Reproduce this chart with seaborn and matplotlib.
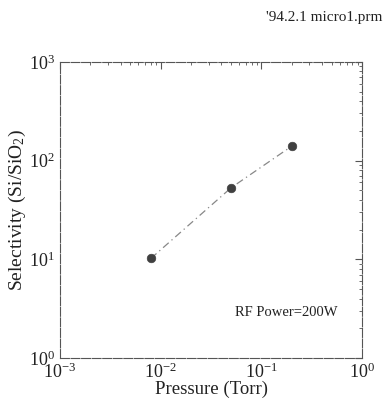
import numpy as np
import pandas as pd
import matplotlib
matplotlib.use("Agg")
import matplotlib.pyplot as plt
import seaborn as sns
from matplotlib.ticker import LogLocator

pressure = [0.008, 0.05, 0.2]
selectivity = [10.2, 53, 140]

df = pd.DataFrame({"Pressure": pressure, "Selectivity": selectivity})

sns.set_style("white")
plt.rcParams["font.family"] = ["Liberation Serif", "DejaVu Serif"]
plt.rcParams["mathtext.fontset"] = "custom"
plt.rcParams["mathtext.rm"] = "Liberation Serif"
plt.rcParams["mathtext.it"] = "Liberation Serif:italic"

fig = plt.figure(figsize=(3.84, 3.98), dpi=100)
ax = fig.add_axes([0.156, 0.1005, 0.787, 0.744])

sns.lineplot(data=df, x="Pressure", y="Selectivity", ax=ax, color="#888888",
             linestyle=(0, (6, 3, 1, 3)), linewidth=0.9)
sns.scatterplot(data=df, x="Pressure", y="Selectivity", ax=ax, color="#404040",
                s=38, edgecolor="#404040", zorder=3)

ax.set_xscale("log")
ax.set_yscale("log")
ax.set_xlim(1e-3, 1e0)
ax.set_ylim(1e0, 1e3)
ax.xaxis.set_major_locator(LogLocator(base=10, numticks=10))
ax.yaxis.set_major_locator(LogLocator(base=10, numticks=10))
ax.xaxis.set_minor_locator(LogLocator(base=10, subs=np.arange(2, 10), numticks=20))
ax.yaxis.set_minor_locator(LogLocator(base=10, subs=np.arange(2, 10), numticks=20))

for s in ax.spines.values():
    s.set_color("#555555")
    s.set_linewidth(0.8)
    s.set_linestyle((0, (8, 1.5)))

ax.tick_params(which="both", direction="in", top=True, right=True,
               colors="#555555", labelcolor="#222222", labelsize=13)
ax.tick_params(which="major", length=5, width=0.8)
ax.tick_params(which="minor", length=2.5, width=0.6)

ax.set_xlabel("Pressure (Torr)", fontsize=13.5, color="#222222", labelpad=-1)
ax.set_ylabel(r"Selectivity (Si/SiO$_2$)", fontsize=14, color="#222222", labelpad=1)

ax.text(0.917, 0.152, "RF Power=200W", transform=ax.transAxes, ha="right",
        va="center", fontsize=10.5, color="#222222")
fig.text(0.997, 0.957, "'94.2.1 micro1.prm", ha="right", va="center",
         fontsize=11, color="#222222")

fig.savefig("out.png", dpi=100)
